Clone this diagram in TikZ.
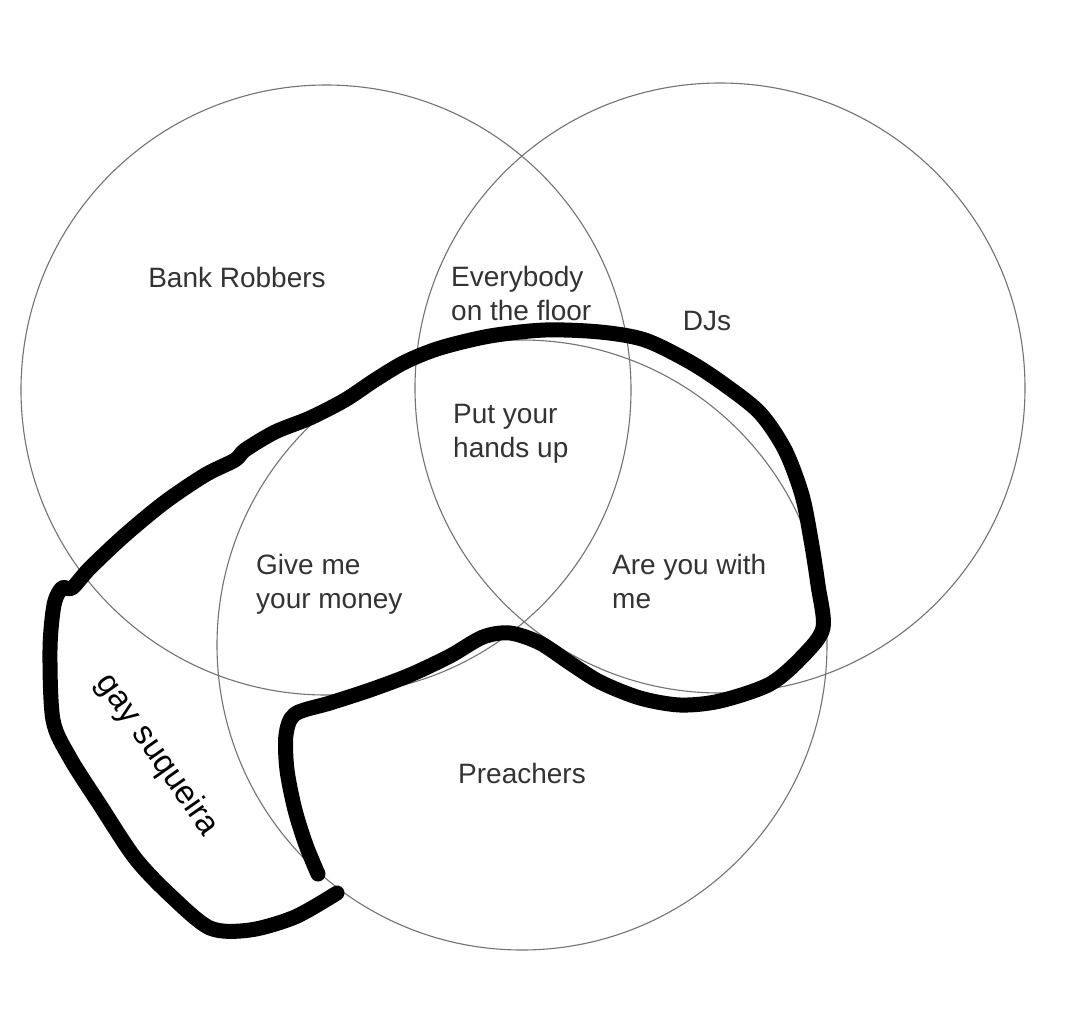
\documentclass[tikz,border=0pt]{standalone}
\usepackage{fontspec}
\setmainfont{Liberation Sans}
\begin{document}
\begin{tikzpicture}[x=1pt,y=-1pt,
  venn/.style={draw=black!55, line width=1.1pt},
  lbl/.style={text=black!80, font=\fontsize{28}{34}\selectfont, inner sep=0pt},
  lbll/.style={lbl, align=left, anchor=north west},
  marker/.style={line width=15pt, line cap=round, line join=round}]
\useasboundingbox[fill=white] (0,0) rectangle (1080,1012);
\node[venn, circle, minimum size=610pt, inner sep=0pt] (robbers) at (326,390) {};
\node[venn, circle, minimum size=610pt, inner sep=0pt] (djs) at (720,388) {};
\node[venn, circle, minimum size=610pt, inner sep=0pt] (preachers) at (522,645) {};
\node[lbl] (lrob) at (237,277) {Bank Robbers};
\node[lbl] (ldj) at (707,321) {DJs};
\node[lbl] (lpre) at (522,773) {Preachers};
\node[lbll] (lfloor) at (451,266) {Everybody\\on the floor};
\node[lbll] (lhands) at (453,404) {Put your\\hands up};
\node[lbll] (lmoney) at (256,554) {Give me\\your money};
\node[lbll] (lwith) at (612,554) {Are you with\\me};
\draw[marker] plot[smooth, tension=0.5] coordinates {
 (318,874) (306,845) (295,810) (287,770) (286,735) (295,714) (330,703) (370,690)
 (410,675) (450,656) (483,637) (510,633) (540,643) (570,663) (600,682) (640,698)
 (680,705) (720,701) (770,684) (803,656) (823,628) (818,585) (811,540) (802,495)
 (785,450) (760,413) (725,385) (690,362) (645,340) (600,332) (545,330) (490,336)
 (440,348) (405,362) (375,380) (345,400) (310,418) (275,432) (245,450) (235,460)
 (205,475) (165,502) (125,535) (90,568) (72,588) (62,588) (54,605) (50,650)
 (53,720) (70,758) (100,805) (135,858) (170,895) (210,928) (250,930) (295,917) (337,893)};
\node[text=black, font=\fontsize{33}{40}\selectfont, rotate=-55, inner sep=0pt] (gay) at (157,755) {gay suqueira};
\end{tikzpicture}
\end{document}
